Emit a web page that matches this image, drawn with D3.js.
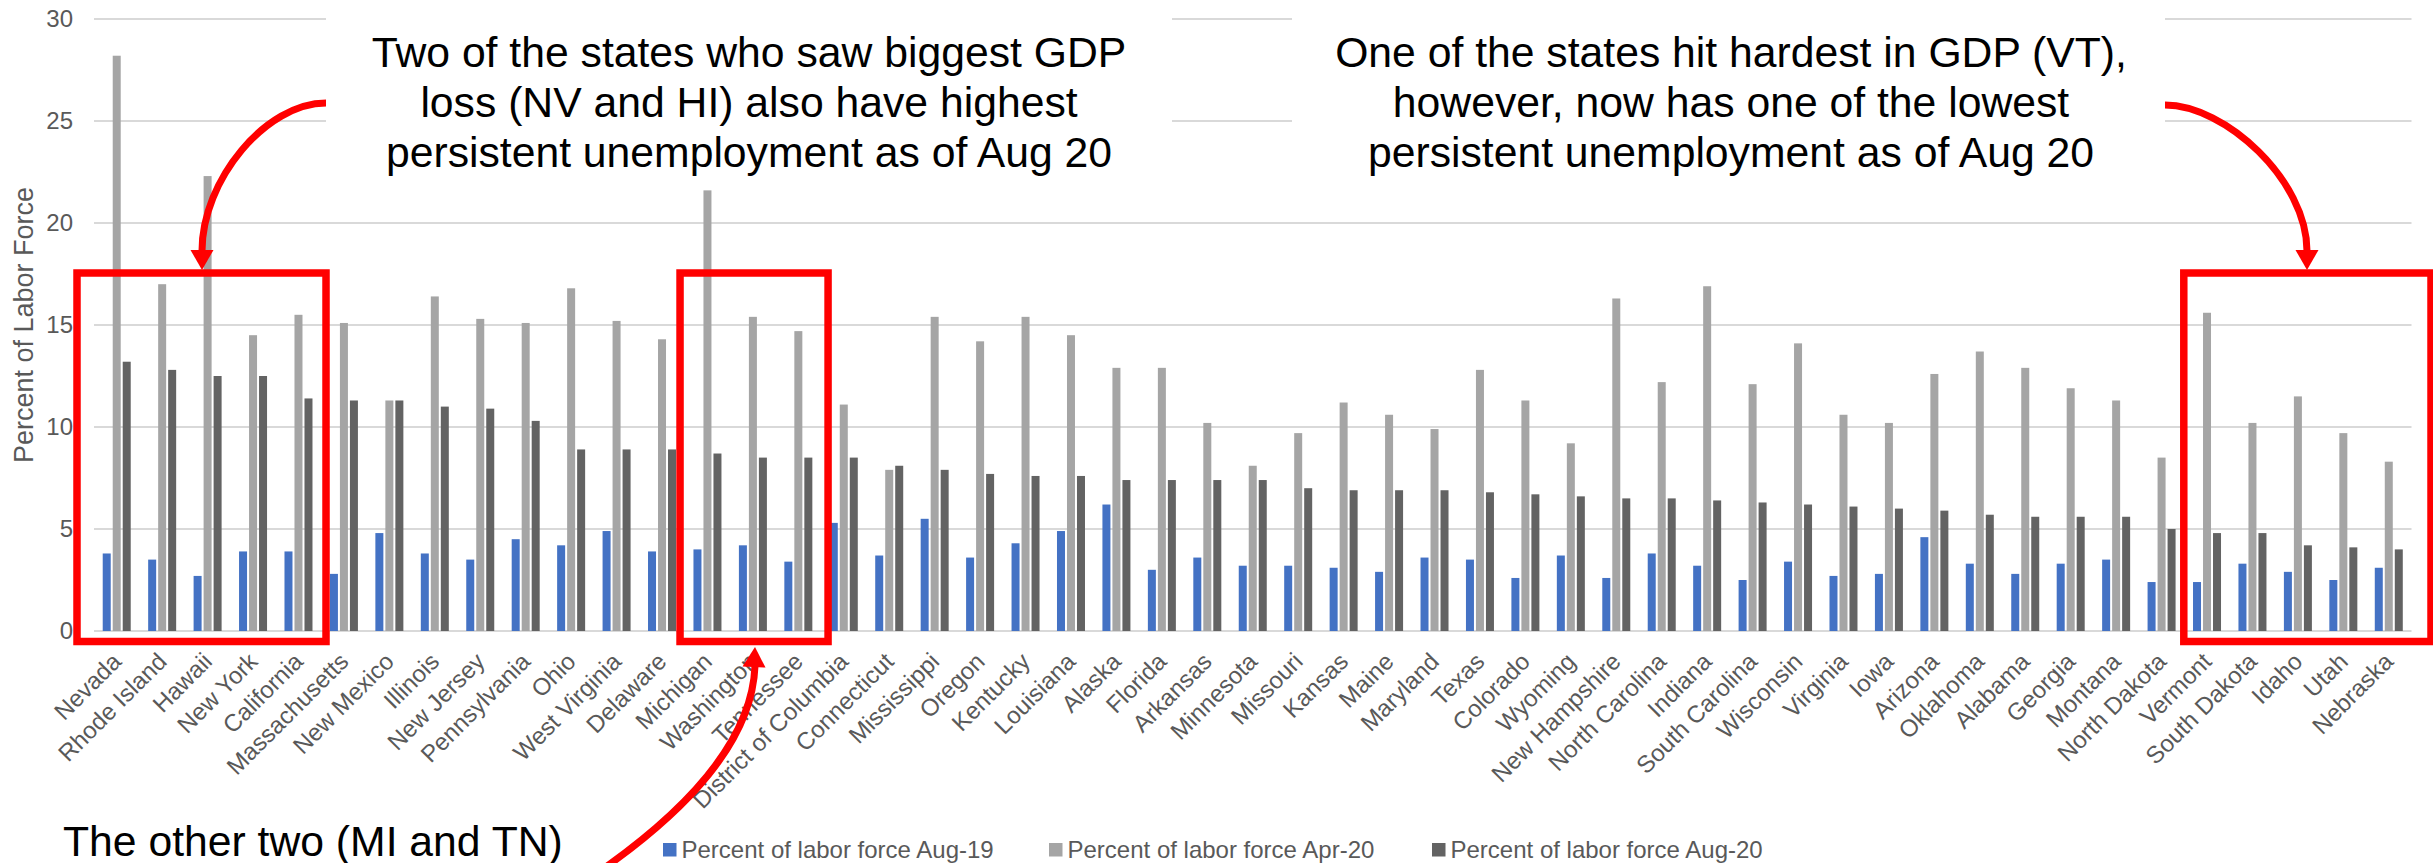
<!DOCTYPE html>
<html>
<head>
<meta charset="utf-8">
<script src="https://cdn.jsdelivr.net/npm/d3@7"></script>
<style>
  html, body { margin: 0; padding: 0; background: #ffffff; }
  svg { display: block; font-family: "Liberation Sans", Arial, sans-serif; }
</style>
</head>
<body>
<svg id="chart" width="2433" height="863"></svg>
<script>
// Unemployment as a percent of the labor force, by state
const states = ["Nevada", "Rhode Island", "Hawaii", "New York", "California", "Massachusetts",
  "New Mexico", "Illinois", "New Jersey", "Pennsylvania", "Ohio", "West Virginia", "Delaware",
  "Michigan", "Washington", "Tennessee", "District of Columbia", "Connecticut", "Mississippi",
  "Oregon", "Kentucky", "Louisiana", "Alaska", "Florida", "Arkansas", "Minnesota", "Missouri",
  "Kansas", "Maine", "Maryland", "Texas", "Colorado", "Wyoming", "New Hampshire",
  "North Carolina", "Indiana", "South Carolina", "Wisconsin", "Virginia", "Iowa", "Arizona",
  "Oklahoma", "Alabama", "Georgia", "Montana", "North Dakota", "Vermont", "South Dakota",
  "Idaho", "Utah", "Nebraska"];

const aug19 = [3.8, 3.5, 2.7, 3.9, 3.9, 2.8, 4.8, 3.8, 3.5, 4.5, 4.2, 4.9, 3.9,
  4.0, 4.2, 3.4, 5.3, 3.7, 5.5, 3.6, 4.3, 4.9, 6.2, 3.0, 3.6, 3.2, 3.2, 3.1, 2.9,
  3.6, 3.5, 2.6, 3.7, 2.6, 3.8, 3.2, 2.5, 3.4, 2.7, 2.8, 4.6, 3.3, 2.8, 3.3, 3.5,
  2.4, 2.4, 3.3, 2.9, 2.5, 3.1];

const apr20 = [28.2, 17.0, 22.3, 14.5, 15.5, 15.1, 11.3, 16.4, 15.3, 15.1, 16.8, 15.2, 14.3,
  21.6, 15.4, 14.7, 11.1, 7.9, 15.4, 14.2, 15.4, 14.5, 12.9, 12.9, 10.2, 8.1, 9.7, 11.2, 10.6,
  9.9, 12.8, 11.3, 9.2, 16.3, 12.2, 16.9, 12.1, 14.1, 10.6, 10.2, 12.6, 13.7, 12.9, 11.9, 11.3,
  8.5, 15.6, 10.2, 11.5, 9.7, 8.3];

const aug20 = [13.2, 12.8, 12.5, 12.5, 11.4, 11.3, 11.3, 11.0, 10.9, 10.3, 8.9, 8.9, 8.9,
  8.7, 8.5, 8.5, 8.5, 8.1, 7.9, 7.7, 7.6, 7.6, 7.4, 7.4, 7.4, 7.4, 7.0, 6.9, 6.9,
  6.9, 6.8, 6.7, 6.6, 6.5, 6.5, 6.4, 6.3, 6.2, 6.1, 6.0, 5.9, 5.7, 5.6, 5.6, 5.6,
  5.0, 4.8, 4.8, 4.2, 4.1, 4.0];

const seriesNames = ["Percent of labor force Aug-19", "Percent of labor force Apr-20", "Percent of labor force Aug-20"];
const seriesValues = [aug19, apr20, aug20];
const seriesColors = ["#4472C4", "#A5A5A5", "#636363"];
const yTicks = [0, 5, 10, 15, 20, 25, 30];
const yTitle = "Percent of Labor Force";

const noteLeft = ["Two of the states who saw biggest GDP", "loss (NV and HI) also have highest", "persistent unemployment as of Aug 20"];
const noteRight = ["One of the states hit hardest in GDP (VT),", "however, now has one of the lowest", "persistent unemployment as of Aug 20"];
const noteBottom = "The other two (MI and TN)";

// highlighted groups of states (first and last state in each box)
const highlights = [["Nevada", "California"], ["Michigan", "Tennessee"], ["Vermont", "Nebraska"]];

const svg = d3.select("#chart");
const textGray = "#595959";

const x0 = d3.scaleBand().domain(states).range([94, 2411.5]).padding(0);
const x1 = d3.scaleBand().domain(d3.range(3)).range([0, 28]).paddingInner(0.2).paddingOuter(0);
const groupOffset = (x0.bandwidth() - 28) / 2;
const y = d3.scaleLinear().domain([0, 30]).range([631, 19]);

// gridlines
const grid = svg.append("g");
grid.selectAll("line").data(yTicks).join("line")
  .attr("x1", x0.range()[0]).attr("x2", x0.range()[1])
  .attr("y1", d => y(d)).attr("y2", d => y(d))
  .attr("stroke", "#D9D9D9").attr("stroke-width", 2);

// y axis labels
const yAxis = svg.append("g").attr("transform", "translate(73,0)")
  .call(d3.axisLeft(y).tickValues(yTicks).tickSize(0).tickPadding(0));
yAxis.select(".domain").remove();
yAxis.selectAll("text").attr("fill", textGray).style("font-size", "24px")
  .style("font-family", "'Liberation Sans', Arial, sans-serif");

svg.append("text")
  .attr("transform", "translate(33,325) rotate(-90)")
  .attr("text-anchor", "middle").attr("fill", textGray).style("font-size", "27px")
  .text(yTitle);

// bars
const groups = svg.append("g").selectAll("g").data(states).join("g")
  .attr("transform", d => `translate(${x0(d) + groupOffset},0)`);
groups.selectAll("rect").data((d, i) => seriesValues.map((vals, s) => ({ s, v: vals[i] }))).join("rect")
  .attr("x", d => x1(d.s)).attr("width", x1.bandwidth())
  .attr("y", d => y(d.v)).attr("height", d => y(0) - y(d.v))
  .attr("fill", d => seriesColors[d.s]);

// category labels
const xAxis = svg.append("g");
xAxis.selectAll("text").data(states).join("text")
  .attr("transform", d => `translate(${x0(d) + x0.bandwidth() / 2 + 6},663) rotate(-45)`)
  .attr("text-anchor", "end").attr("fill", textGray).style("font-size", "24px")
  .text(d => d);

// legend
const legendX = [663, 1049, 1432];
const legend = svg.append("g");
seriesNames.forEach((name, i) => {
  legend.append("rect").attr("x", legendX[i]).attr("y", 843).attr("width", 13.5).attr("height", 13.5)
    .attr("fill", seriesColors[i]);
  legend.append("text").attr("x", legendX[i] + 18.5).attr("y", 858)
    .attr("fill", textGray).style("font-size", "24px").text(name);
});

// annotation boxes (white fill behind the notes)
svg.append("rect").attr("x", 326).attr("y", 0).attr("width", 846).attr("height", 186).attr("fill", "#fff");
svg.append("rect").attr("x", 1292).attr("y", 0).attr("width", 873).attr("height", 186).attr("fill", "#fff");

function note(lines, cx) {
  const t = svg.append("text").attr("text-anchor", "middle").attr("fill", "#000").style("font-size", "42.7px");
  lines.forEach((line, i) => t.append("tspan").attr("x", cx).attr("y", 67 + i * 50).text(line));
}
note(noteLeft, 749);
note(noteRight, 1731);
svg.append("text").attr("x", 63).attr("y", 856).attr("fill", "#000").style("font-size", "42.7px").text(noteBottom);

// red highlight boxes around state groups
const red = "#FF0000";
const boxPad = [[-17, 4.8], [-4.7, 7], [-0.5, null]];
highlights.forEach(([a, b], i) => {
  const left = x0(a) + boxPad[i][0];
  const right = boxPad[i][1] === null ? 2431 : x0(b) + x0.bandwidth() + boxPad[i][1];
  svg.append("rect").attr("x", left).attr("y", 273).attr("width", right - left).attr("height", 641.5 - 273)
    .attr("fill", "none").attr("stroke", red).attr("stroke-width", 7.5);
});

// curved arrows pointing at the boxes
function arrow(path, tip, dir) {
  svg.append("path").attr("d", path).attr("fill", "none").attr("stroke", red).attr("stroke-width", 7);
  const [tx, ty] = tip, L = 20, W = 11.5;
  const bx = tx - dir[0] * L, by = ty - dir[1] * L;
  const px = -dir[1], py = dir[0];
  svg.append("path")
    .attr("d", `M${tx},${ty}L${bx + px * W},${by + py * W}L${bx - px * W},${by - py * W}Z`)
    .attr("fill", red);
}
arrow("M326,103C266,103 202,180 202,251", [202, 270], [0, 1]);
arrow("M2165,105C2225,105 2307,180 2307,251", [2307, 270], [0, 1]);
arrow("M590,878C690,810 752,740 755,666", [755, 647], [0.05, -1]);
</script>
</body>
</html>
